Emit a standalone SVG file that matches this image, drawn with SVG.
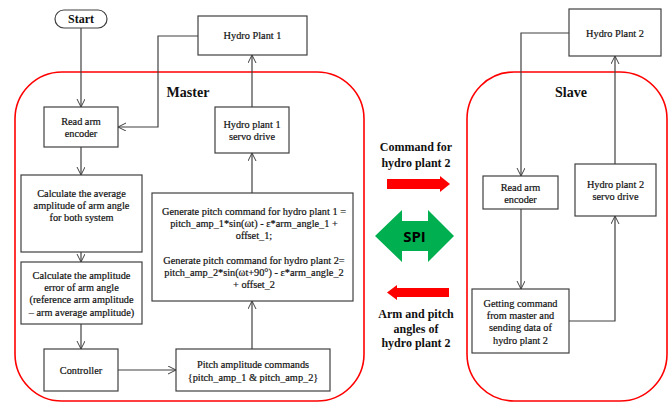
<svg xmlns="http://www.w3.org/2000/svg" width="670" height="402" viewBox="0 0 670 402">
<defs>
<marker id="ah" markerWidth="10" markerHeight="10" refX="8" refY="4" orient="auto" markerUnits="userSpaceOnUse">
<path d="M0,0 L8,4 L0,8" fill="none" stroke="#404040" stroke-width="1"/>
</marker>
<style>
.box{fill:#fff;stroke:#404040;stroke-width:1.2}
.grp{fill:none;stroke:#ff0000;stroke-width:1.6}
.t{font-family:"Liberation Serif","Times New Roman",serif;font-size:10.3px;fill:#111;stroke:#111;stroke-width:0.2;text-anchor:middle}
.b{font-family:"Liberation Serif","Times New Roman",serif;font-weight:bold;fill:#111;text-anchor:middle}
.c{fill:none;stroke:#404040;stroke-width:1.2;marker-end:url(#ah)}
</style>
</defs>
<rect width="670" height="402" fill="#fff"/>
<g id="master">
<rect class="grp" x="15" y="72" width="349" height="329" rx="47" ry="47"/>
<text class="b" x="188" y="97" font-size="14">Master</text>
</g>
<g id="slave">
<rect class="grp" x="467" y="72" width="200" height="329" rx="47" ry="47"/>
<text class="b" x="571" y="97" font-size="14">Slave</text>
</g>
<g id="connectors">
<line class="c" x1="81" y1="28" x2="81" y2="107"/>
<polyline class="c" points="198,36 158,36 158,127 118,127"/>
<line class="c" x1="81" y1="147" x2="81" y2="175"/>
<line class="c" x1="81" y1="252" x2="81" y2="262"/>
<line class="c" x1="81" y1="324" x2="81" y2="349"/>
<line class="c" x1="118" y1="370" x2="176" y2="370"/>
<line class="c" x1="252" y1="349" x2="252" y2="301"/>
<line class="c" x1="252" y1="193" x2="252" y2="153"/>
<line class="c" x1="252" y1="107" x2="252" y2="55"/>
<polyline class="c" points="569,33 521,33 521,176"/>
<line class="c" x1="521" y1="209" x2="521" y2="289"/>
<polyline class="c" points="569,321 615,321 615,216"/>
<line class="c" x1="615" y1="164" x2="615" y2="56"/>
</g>
<g id="start">
<rect class="box" x="55" y="10" width="52" height="18" rx="9" ry="9"/>
<text class="b" x="81" y="23" font-size="12">Start</text>
</g>
<g id="hydro1">
<rect class="box" x="198" y="16" width="109" height="39"/>
<text class="t" x="252.5" y="39">Hydro Plant 1</text>
</g>
<g id="readarm1">
<rect class="box" x="44" y="107" width="74" height="40"/>
<text class="t" x="81" y="125">Read arm</text>
<text class="t" x="81" y="137">encoder</text>
</g>
<g id="servo1">
<rect class="box" x="215" y="107" width="74" height="46"/>
<text class="t" x="252" y="128">Hydro plant 1</text>
<text class="t" x="252" y="140">servo drive</text>
</g>
<g id="calcavg">
<rect class="box" x="21" y="175" width="121" height="77"/>
<text class="t" x="81.5" y="197">Calculate the average</text>
<text class="t" x="81.5" y="209">amplitude of arm angle</text>
<text class="t" x="81.5" y="221">for both system</text>
</g>
<g id="calcerr">
<rect class="box" x="21" y="262" width="121" height="62"/>
<text class="t" x="81.5" y="279">Calculate the amplitude</text>
<text class="t" x="81.5" y="291">error of arm angle</text>
<text class="t" x="81.5" y="303">(reference arm amplitude</text>
<text class="t" x="81.5" y="316">– arm average amplitude)</text>
</g>
<g id="controller">
<rect class="box" x="44" y="349" width="74" height="42"/>
<text class="t" x="81" y="374">Controller</text>
</g>
<g id="pitchamp">
<rect class="box" x="176" y="349" width="154" height="42"/>
<text class="t" x="253" y="368">Pitch amplitude commands</text>
<text class="t" x="253" y="381">{pitch_amp_1 &amp; pitch_amp_2}</text>
</g>
<g id="generate">
<rect class="box" x="152" y="193" width="201" height="108"/>
<text class="t" x="254" y="215">Generate pitch command for hydro plant 1 =</text>
<text class="t" x="254" y="227">pitch_amp_1*sin(ωt) - ε*arm_angle_1 +</text>
<text class="t" x="254" y="239">offset_1;</text>
<text class="t" x="254" y="264">Generate pitch command for hydro plant 2=</text>
<text class="t" x="254" y="276">pitch_amp_2*sin(ωt+90°) - ε*arm_angle_2</text>
<text class="t" x="254" y="288">+ offset_2</text>
</g>
<g id="hydro2">
<rect class="box" x="569" y="9" width="92" height="47"/>
<text class="t" x="615" y="37">Hydro Plant 2</text>
</g>
<g id="readarm2">
<rect class="box" x="483" y="176" width="75" height="33"/>
<text class="t" x="520.5" y="191">Read arm</text>
<text class="t" x="520.5" y="203">encoder</text>
</g>
<g id="servo2">
<rect class="box" x="575" y="164" width="81" height="52"/>
<text class="t" x="615.5" y="188">Hydro plant 2</text>
<text class="t" x="615.5" y="200">servo drive</text>
</g>
<g id="getting">
<rect class="box" x="472" y="289" width="97" height="64"/>
<text class="t" x="520.5" y="307">Getting command</text>
<text class="t" x="520.5" y="319">from master and</text>
<text class="t" x="520.5" y="331">sending data of</text>
<text class="t" x="520.5" y="344">hydro plant 2</text>
</g>
<g id="cmd">
<text class="b" x="416" y="151" font-size="12">Command for</text>
<text class="b" x="416" y="167" font-size="12">hydro plant 2</text>
<polygon points="387,179 440,179 440,176 450,184 440,192 440,189 387,189" fill="#ff0000"/>
</g>
<g id="spi">
<polygon points="375,236 402,210 402,221 428,221 428,210 454,236 428,262 428,251 402,251 402,262" fill="#00b050"/>
<text x="414.5" y="242" font-family="'Open Sans','Liberation Sans',sans-serif" font-weight="bold" font-size="15" text-anchor="middle" fill="#000">SPI</text>
</g>
<g id="armpitch">
<polygon points="449,288 397,288 397,285 387,292.5 397,300 397,297 449,297" fill="#ff0000"/>
<text class="b" x="416" y="318" font-size="12">Arm and pitch</text>
<text class="b" x="416" y="333" font-size="12">angles of</text>
<text class="b" x="416" y="347" font-size="12">hydro plant 2</text>
</g>
</svg>
